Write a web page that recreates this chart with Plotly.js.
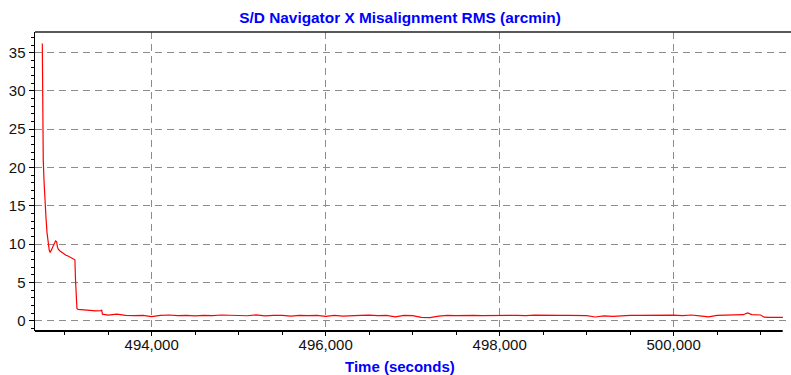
<!DOCTYPE html>
<html>
<head>
<meta charset="utf-8">
<script src="https://cdn.plot.ly/plotly-3.0.1.min.js"></script>
<style>html,body{margin:0;padding:0;background:#fff;}#chart{width:791px;height:375px;}</style>
</head>
<body>
<div id="chart"></div>
<script>
// Time (seconds) and misalignment RMS (arcmin)
const timeSeconds = [
  492743, 492747, 492754, 492762, 492770, 492777, 492785, 492797, 492812, 492823,
  492834, 492848, 492865, 492883, 492896, 492908, 492917, 492926, 492946, 492969,
  492992, 493015, 493038, 493061, 493084, 493110, 493118, 493124, 493133, 493141,
  493153, 493176, 493222, 493268, 493314, 493360, 493417, 493425, 493434, 493464,
  493500, 493600, 493700, 493800, 493900, 494000, 494100, 494200, 494300, 494400,
  494500, 494600, 494700, 494800, 494900, 495000, 495100, 495200, 495300, 495400,
  495500, 495600, 495700, 495800, 495900, 496000, 496100, 496200, 496300, 496400,
  496500, 496600, 496700, 496800, 496900, 497000, 497100, 497200, 497300, 497400,
  497500, 497600, 497700, 497800, 497900, 498000, 498100, 498200, 498300, 498400,
  498500, 498600, 498700, 498800, 498900, 499000, 499100, 499200, 499300, 499400,
  499500, 499600, 499700, 499800, 499900, 500000, 500100, 500200, 500300, 500400,
  500500, 500600, 500700, 500800, 500850, 500900, 501000, 501040, 501100, 501256
];
const misalignmentRms = [
  36.2, 28.0, 21.0, 18.4, 16.0, 14.9, 13.5, 11.5, 10.0, 9.2,
  8.9, 9.3, 9.8, 10.1, 10.4, 10.3, 9.6, 9.35, 9.1, 8.9,
  8.7, 8.55, 8.45, 8.3, 8.2, 8.0, 7.95, 5.5, 3.5, 1.6,
  1.47, 1.45, 1.43, 1.3, 1.28, 1.27, 1.3, 1.42, 0.85, 0.75,
  0.72, 0.85, 0.70, 0.66, 0.68, 0.52, 0.68, 0.74, 0.66, 0.70,
  0.62, 0.70, 0.66, 0.74, 0.68, 0.70, 0.64, 0.76, 0.62, 0.68,
  0.70, 0.58, 0.70, 0.66, 0.68, 0.55, 0.70, 0.58, 0.66, 0.68,
  0.72, 0.66, 0.70, 0.50, 0.68, 0.66, 0.42, 0.40, 0.58, 0.68,
  0.66, 0.70, 0.68, 0.66, 0.64, 0.62, 0.68, 0.70, 0.66, 0.72,
  0.68, 0.66, 0.68, 0.70, 0.68, 0.66, 0.48, 0.62, 0.55, 0.66,
  0.68, 0.70, 0.72, 0.70, 0.68, 0.72, 0.66, 0.74, 0.62, 0.50,
  0.70, 0.74, 0.72, 0.78, 1.02, 0.80, 0.74, 0.45, 0.44, 0.44
];
const chartTitle = "S/D Navigator X Misalignment RMS (arcmin)";
const xAxisTitle = "Time (seconds)";
const yTickValues = [0, 5, 10, 15, 20, 25, 30, 35];
const xTickValues = [494000, 496000, 498000, 500000];

const font = "Arial, 'Liberation Sans', sans-serif";
const gridDash = "7px,5px";

const trace = {
  x: timeSeconds,
  y: misalignmentRms,
  type: "scatter",
  mode: "lines",
  line: {color: "#ff0000", width: 1.2},
  hoverinfo: "x+y"
};

const layout = {
  width: 791,
  height: 375,
  margin: {l: 35, r: 0, t: 32, b: 44},
  paper_bgcolor: "#ffffff",
  plot_bgcolor: "#ffffff",
  showlegend: false,
  font: {family: font, size: 15, color: "#111"},
  title: {
    text: "<b>" + chartTitle + "</b>",
    font: {family: font, size: 15.4, color: "#0000ff"},
    x: 400 / 791, xref: "container", xanchor: "center",
    y: 1 - 18 / 375, yref: "container", yanchor: "middle"
  },
  xaxis: {
    range: [492659, 501349],
    tickvals: xTickValues,
    tickformat: ",d",
    ticks: "outside",
    ticklen: 4,
    tickwidth: 1,
    tickcolor: "#000",
    ticklabelstandoff: -4,
    showgrid: true,
    gridcolor: "#8c8c8c",
    gridwidth: 1,
    griddash: gridDash,
    zeroline: false,
    showline: false,
    tickfont: {family: font, size: 15, color: "#111"},
    minor: {dtick: 500, tick0: 0, ticks: "outside", ticklen: 3, tickcolor: "#000", showgrid: false}
  },
  yaxis: {
    range: [-1.35, 37.7],
    tickvals: yTickValues,
    ticks: "outside",
    ticklen: 5,
    tickwidth: 1,
    tickcolor: "#000",
    showgrid: true,
    gridcolor: "#8c8c8c",
    gridwidth: 1,
    griddash: gridDash,
    zeroline: false,
    showline: true,
    linecolor: "#000",
    linewidth: 1.5,
    tickfont: {family: font, size: 15, color: "#111"},
    minor: {dtick: 1, tick0: 0, ticks: "outside", ticklen: 3, tickcolor: "#000", showgrid: false}
  },
  shapes: [
    {type: "line", xref: "paper", yref: "paper", x0: 0, x1: 0.989, y0: 0, y1: 0,
     line: {color: "#000", width: 2}},
    {type: "line", xref: "paper", yref: "paper", x0: 0, x1: 1, y0: 1, y1: 1,
     line: {color: "#222", width: 1.5}}
  ],
  annotations: [
    {text: "<b>" + xAxisTitle + "</b>", xref: "paper", yref: "paper",
     x: (400 - 35) / 756, y: -(366 - 331) / 299, xanchor: "center", yanchor: "middle",
     showarrow: false, font: {family: font, size: 15, color: "#0000ff"}}
  ]
};

Plotly.newPlot("chart", [trace], layout, {displayModeBar: false, staticPlot: true});
</script>
</body>
</html>
